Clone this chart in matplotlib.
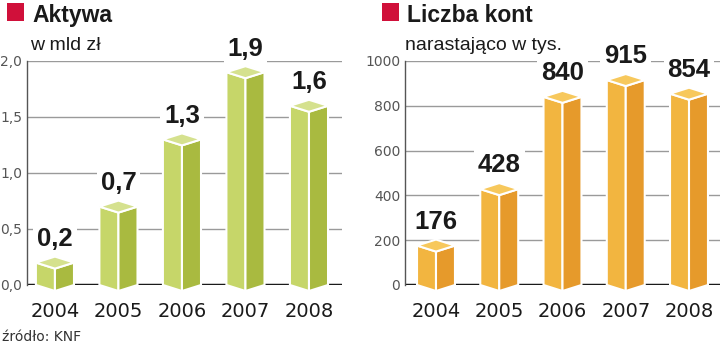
import matplotlib.pyplot as plt
from matplotlib.patches import Polygon, Rectangle

# data
years = ['2004', '2005', '2006', '2007', '2008']
assets = [0.2, 0.7, 1.3, 1.9, 1.6]
assets_text = ['0,2', '0,7', '1,3', '1,9', '1,6']
accounts = [176, 428, 840, 915, 854]
accounts_text = ['176', '428', '840', '915', '854']
assets_ticks = [0, 0.5, 1.0, 1.5, 2.0]
assets_ticklabels = ['0,0', '0,5', '1,0', '1,5', '2,0']
accounts_ticks = [0, 200, 400, 600, 800, 1000]
accounts_ticklabels = ['0', '200', '400', '600', '800', '1000']

GREEN = ('#c6d669', '#a9ba40', '#d5e18e')   # left face, right face, top
ORANGE = ('#f2b540', '#e69a2b', '#f7c85c')
RED = '#d0103a'
BOLD = 'Liberation Sans'

fig = plt.figure(figsize=(7.2, 3.46), dpi=100)
W, H = 720, 346


def draw_panel(ax, values, texts, ticks, ticklabels, colors, xlim):
    ymax = ticks[-1]
    ax.set_xlim(*xlim)
    ax.set_ylim(0, ymax)
    ax_h = ax.get_position().height * H
    d = 6 * ymax / ax_h       # half height of the top diamond, in data units
    w = 0.3                   # half width of a bar

    # grid lines and base line
    for t in ticks[1:]:
        ax.axhline(t, color='#9a9a9a', lw=1, zorder=1)
    ax.axhline(0, color='#1a1a1a', lw=2.5, zorder=2)

    for i, v in enumerate(values):
        left = [(i - w, 0), (i, -d), (i, v - d), (i - w, v)]
        right = [(i, -d), (i + w, 0), (i + w, v), (i, v - d)]
        top = [(i - w, v), (i, v - d), (i + w, v), (i, v + d)]
        for pts, c in zip((left, right, top), colors):
            ax.add_patch(Polygon(pts, closed=True, fc=c, ec='white', lw=1.5,
                                 zorder=3, clip_on=False, joinstyle='miter'))
        ax.annotate(texts[i], (i, v), xytext=(0, 12), textcoords='offset points',
                    ha='center', va='baseline', fontsize=18.5, fontweight='bold',
                    family=BOLD, color='#1a1a1a', zorder=4,
                    bbox=dict(boxstyle='square,pad=0.15', fc='white', ec='none'))

    ax.set_yticks(ticks)
    ax.set_yticklabels(ticklabels, fontsize=10, color='#555555')
    ax.set_xticks(range(len(years)))
    ax.set_xticklabels(years, fontsize=14, color='#1a1a1a')
    ax.tick_params(axis='y', length=0, pad=3.5)
    ax.tick_params(axis='x', length=0, pad=12)
    for s in ('top', 'right', 'bottom'):
        ax.spines[s].set_visible(False)
    ax.spines['left'].set_color('#555555')
    ax.spines['left'].set_linewidth(1)
    ax.patch.set_visible(False)


bottom = 1 - 285 / H
height = 224 / H
ax1 = fig.add_axes([27 / W, bottom, 315 / W, height])
ax2 = fig.add_axes([405 / W, bottom, 315 / W, height])

draw_panel(ax1, assets, assets_text, assets_ticks, assets_ticklabels, GREEN, (-0.44, 4.52))
draw_panel(ax2, accounts, accounts_text, accounts_ticks, accounts_ticklabels, ORANGE, (-0.49, 4.49))

# titles
for x_sq, x_txt, title, sub in [(7, 32, 'Aktywa', 'w mld zł'),
                                (382, 407, 'Liczba kont', 'narastająco w tys.')]:
    fig.patches.append(Rectangle((x_sq / W, 1 - 21 / H), 17 / W, 18 / H,
                                 transform=fig.transFigure, fc=RED, ec='none'))
    fig.text(x_txt / W, 1 - 22 / H, title, fontsize=16.5, fontweight='bold',
             family=BOLD, color='#1a1a1a', va='baseline')
    fig.text((x_txt - 2) / W, 1 - 50 / H, sub, fontsize=14, family=BOLD,
             color='#1a1a1a', va='baseline')

fig.text(2 / W, 1 - 341 / H, 'źródło: KNF', fontsize=10, color='#333333', va='baseline')

plt.savefig('out.png', dpi=100)
